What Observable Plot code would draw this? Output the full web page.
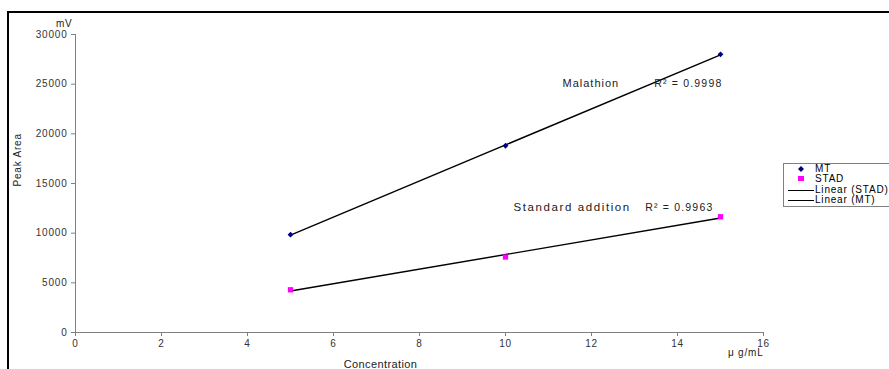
<!DOCTYPE html>
<html>
<head>
<meta charset="utf-8">
<script src="https://cdn.jsdelivr.net/npm/d3@7"></script>
<script src="https://cdn.jsdelivr.net/npm/@observablehq/plot@0.6"></script>
<style>
  html, body { margin: 0; padding: 0; background: #fff; overflow: hidden; }
  #wrap { position: relative; width: 889px; height: 369px; overflow: hidden; font-family: "Liberation Sans", Arial, sans-serif; }
  #wrap svg { position: absolute; left: 0; top: 0; }
  #wrap svg text { letter-spacing: 0.8px; }
  .bt { position: absolute; left: 7px; top: 11px; width: 900px; height: 2px; background: #000; }
  .bl { position: absolute; left: 7px; top: 11px; width: 2px; height: 400px; background: #000; }
  #legend { position: absolute; left: 783px; top: 163px; width: 120px; height: 42px; border: 1px solid #808080; background: #fff; font-size: 10px; color: #000; letter-spacing: 0.8px; }
  #legend .row { position: absolute; left: 0; height: 10px; line-height: 10px; white-space: nowrap; }
  #legend .sym { position: absolute; left: 0; top: 0; width: 30px; height: 10px; }
  #legend .lab { position: absolute; left: 31px; top: 0; }
</style>
</head>
<body>
<div id="wrap"></div>
<script>
// ---- data ----
const concentration = [5, 10, 15];
const mtArea = [9850, 18800, 28000];
const stadArea = [4300, 7600, 11650];
const xTicks = [0, 2, 4, 6, 8, 10, 12, 14, 16];
const yTicks = [0, 5000, 10000, 15000, 20000, 25000, 30000];
const seriesNames = ["MT", "STAD"];
const seriesLabels = ["Malathion", "Standard addition"];
const r2Labels = ["R\u00b2 = 0.9998", "R\u00b2 = 0.9963"];
const legendLabels = ["MT", "STAD", "Linear (STAD)", "Linear (MT)"];

const mt = concentration.map((c, i) => ({x: c, y: mtArea[i]}));
const stad = concentration.map((c, i) => ({x: c, y: stadArea[i]}));

const font = "Liberation Sans, Arial, sans-serif";
const lastMT = [mt[mt.length - 1]];
const lastST = [stad[stad.length - 1]];

const chart = Plot.plot({
  width: 889,
  height: 369,
  marginLeft: 75,
  marginRight: 126,
  marginTop: 34,
  marginBottom: 37,
  style: {fontFamily: font, fontSize: "10px", background: "transparent", overflow: "visible"},
  x: {domain: [0, 16]},
  y: {domain: [0, 30000]},
  marks: [
    Plot.ruleX([0], {stroke: "#808080", strokeWidth: 1}),
    Plot.ruleY([0], {stroke: "#808080", strokeWidth: 1}),
    Plot.axisX({ticks: xTicks, tickSize: 4, tickPadding: 3, stroke: "#808080", fill: "#333", label: null, fontSize: 10}),
    Plot.axisY({ticks: yTicks, tickSize: 4, tickPadding: 4, stroke: "#808080", fill: "#333", label: null, tickFormat: d3.format("d"), fontSize: 10}),
    Plot.linearRegressionY(mt, {x: "x", y: "y", ci: 0, stroke: "black", strokeWidth: 1.4}),
    Plot.linearRegressionY(stad, {x: "x", y: "y", ci: 0, stroke: "black", strokeWidth: 1.4}),
    Plot.dot(mt, {x: "x", y: "y", symbol: "diamond2", r: 2.6, fill: "#000080", stroke: "none"}),
    Plot.dot(stad, {x: "x", y: "y", symbol: "square", r: 3, fill: "#ff00ff", stroke: "none"}),
    // annotations anchored at last data point
    Plot.text(lastMT, {x: "x", y: "y", text: () => r2Labels[0], textAnchor: "end", dx: 2, dy: 29, fontSize: 10.5, fill: "#222"}),
    Plot.text(lastMT, {x: "x", y: "y", text: () => seriesLabels[0], textAnchor: "start", dx: -158, dy: 29, fontSize: 11, fill: "#222"}),
    Plot.text(lastST, {x: "x", y: "y", text: () => r2Labels[1], textAnchor: "end", dx: -7, dy: -9, fontSize: 10.5, fill: "#222"}),
    Plot.text(lastST, {x: "x", y: "y", text: () => seriesLabels[1], textAnchor: "start", dx: -207, dy: -9, fontSize: 11.5, fill: "#222"}),
    // axis titles
    Plot.text(["mV"], {frameAnchor: "top-left", textAnchor: "end", dx: -3, dy: -15, fontSize: 10, fill: "#222"}),
    Plot.text(["Peak Area"], {frameAnchor: "left", rotate: -90, dx: -58, dy: 3, fontSize: 10, fill: "#222"}),
    Plot.text(["Concentration"], {frameAnchor: "bottom", lineAnchor: "middle", dx: -39, dy: 32, fontSize: 11, fill: "#222"}),
    Plot.text(["\u03bc g/mL"], {frameAnchor: "bottom-right", textAnchor: "end", lineAnchor: "middle", dx: 0, dy: 20, fontSize: 10, fill: "#222"})
  ]
});

const wrap = document.getElementById("wrap");
wrap.appendChild(chart);
// letter spacing tuned to the reference's widely spaced font
chart.querySelectorAll("text").forEach(t => {
  const s = t.textContent;
  if (s === seriesLabels[1]) t.style.letterSpacing = "1.6px";
  else if (s === seriesLabels[0]) t.style.letterSpacing = "1px";
  else if (r2Labels.includes(s)) t.style.letterSpacing = "1.2px";
  else if (s === "Concentration") t.style.letterSpacing = "0.4px";
});
const bt = document.createElement("div"); bt.className = "bt"; wrap.appendChild(bt);
const bl = document.createElement("div"); bl.className = "bl"; wrap.appendChild(bl);

// legend
const legend = document.createElement("div");
legend.id = "legend";
const rowTops = [0, 10, 21, 31];
legendLabels.forEach((lab, i) => {
  const row = document.createElement("div");
  row.className = "row";
  row.style.top = rowTops[i] + "px";
  let sym;
  if (i === 0) sym = '<svg class="sym" width="30" height="10"><path d="M17,2 L20,5 L17,8 L14,5 Z" fill="#000080"/></svg>';
  else if (i === 1) sym = '<svg class="sym" width="30" height="10"><rect x="14" y="2" width="6" height="5" fill="#ff00ff"/></svg>';
  else sym = '<svg class="sym" width="30" height="10"><line x1="4" x2="30" y1="5.5" y2="5.5" stroke="#000" stroke-width="1"/></svg>';
  row.innerHTML = sym + '<span class="lab">' + lab + '</span>';
  legend.appendChild(row);
});
wrap.appendChild(legend);
</script>
</body>
</html>
